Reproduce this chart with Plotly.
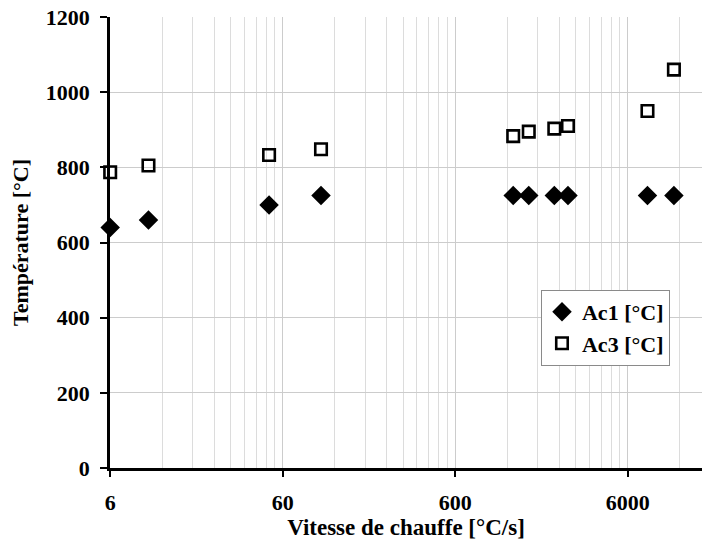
import math
import plotly.graph_objects as go

# Data
vitesse = [6, 10, 50, 100, 1300, 1600, 2250, 2700, 7800, 11100]
ac1 = [640, 660, 700, 725, 725, 725, 725, 725, 725, 725]
ac3 = [787, 805, 833, 848, 883, 895, 903, 910, 950, 1060]
x_ticks = [6, 60, 600, 6000]
y_ticks = [0, 200, 400, 600, 800, 1000, 1200]

minor_vals = []
for dec in [1, 10, 100, 1000]:
    for k in range(2, 10):
        minor_vals.append(6 * k * dec)

FONT = "Liberation Serif, Times New Roman, serif"

fig = go.Figure()
fig.add_trace(go.Scatter(
    x=vitesse, y=ac1, mode="markers", name="Ac1 [°C]",
    marker=dict(symbol="diamond", size=15, color="black"),
    cliponaxis=False,
))
fig.add_trace(go.Scatter(
    x=vitesse, y=ac3, mode="markers", name="Ac3 [°C]",
    marker=dict(symbol="square-open", size=11.5, color="black",
                line=dict(width=2.6, color="black")),
    cliponaxis=False,
))

fig.update_layout(
    width=702, height=540,
    margin=dict(l=110, r=0, t=17, b=72),
    paper_bgcolor="white", plot_bgcolor="white",
    font=dict(family=FONT, color="black"),
    showlegend=True,
    legend=dict(
        x=0.728, y=0.395, xanchor="left", yanchor="top",
        bgcolor="white", bordercolor="#8a8a8a", borderwidth=1,
        font=dict(family=FONT, size=22, weight="bold", color="black"),
        itemsizing="trace", tracegroupgap=0, itemwidth=30,
    ),
    xaxis=dict(
        type="log", automargin=False,
        range=[math.log10(5.985), math.log10(6) + 3.43],
        tickmode="array", tickvals=x_ticks, ticktext=[str(v) for v in x_ticks],
        tickfont=dict(family=FONT, size=22, weight="bold"),
        ticks="outside", ticklen=6, tickcolor="black", tickwidth=2,
        ticklabelstandoff=7,
        showline=True, linecolor="black", linewidth=2.5,
        showgrid=True, gridcolor="#cccccc", gridwidth=1,
        minor=dict(tickmode="array", tickvals=minor_vals, showgrid=True,
                   gridcolor="#dcdcdc", gridwidth=1, ticklen=0),
        zeroline=False,
        title=dict(text="Vitesse de chauffe [°C/s]",
                   font=dict(family=FONT, size=23, weight="bold"), standoff=2),
    ),
    yaxis=dict(
        range=[0, 1200], automargin=False,
        tickmode="array", tickvals=y_ticks,
        tickfont=dict(family=FONT, size=22, weight="bold"),
        ticks="outside", ticklen=7, tickcolor="black", tickwidth=2,
        ticklabelstandoff=6,
        showline=True, linecolor="black", linewidth=2.5,
        showgrid=True, gridcolor="#cccccc", gridwidth=1,
        zeroline=False,
        title=dict(text="Température [°C]",
                   font=dict(family=FONT, size=22, weight="bold"), standoff=12),
    ),
)

fig.write_html(
    "out.html",
    config={"displayModeBar": False},
    post_script="document.body.style.margin='0';document.body.style.overflow='hidden';",
)
